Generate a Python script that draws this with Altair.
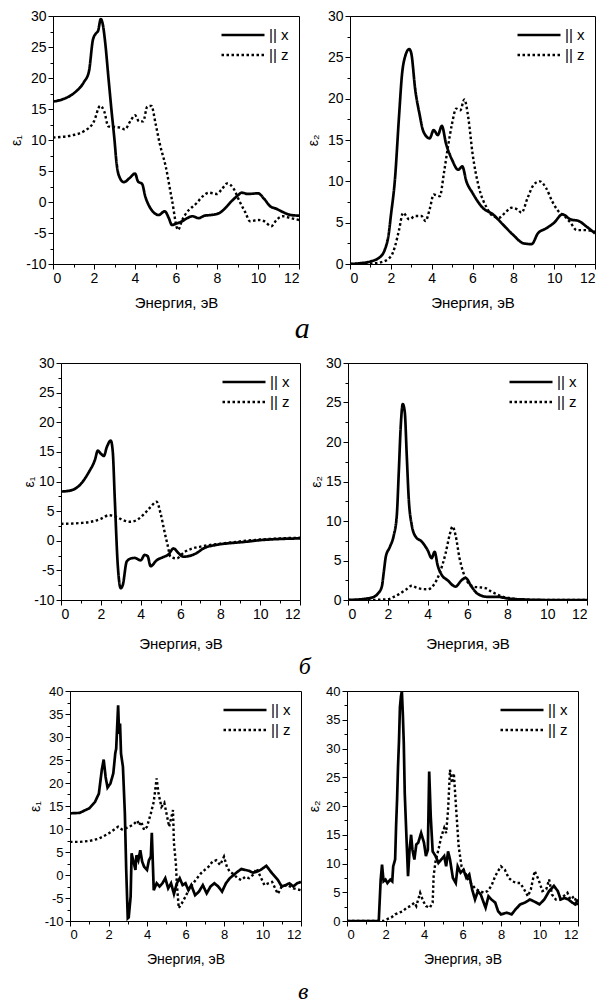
import altair as alt
import pandas as pd

SERIES = ["|| x", "|| z"]
X_TITLE = "Энергия, эВ"

# ---------- row "а" : eps1 ----------
a1_x_e = [0, 0.5, 1, 1.5, 1.75, 1.95, 2.1, 2.2, 2.33, 2.42, 2.55, 2.7, 2.85, 3.0, 3.1, 3.2, 3.45, 3.75, 4.0, 4.15,
          4.35, 4.5, 4.7, 4.95, 5.15, 5.45, 5.65, 5.8, 6.0, 6.3, 6.55, 6.8, 7.1, 7.4, 7.7, 8.1, 8.4, 8.7, 9.0, 9.2,
          9.5, 10.0, 10.3, 10.6, 10.9, 11.2, 11.6, 12.0]
a1_x_v = [16.2, 16.6, 17.5, 19.3, 21.0, 26.2, 27.2, 27.6, 29.5, 28.8, 25.6, 20.2, 14.9, 10.0, 6.3, 4.4, 3.2, 3.9, 4.6, 3.3,
          2.9, 0.9, -0.7, -1.8, -2.1, -1.5, -2.6, -3.7, -3.5, -3.1, -2.6, -2.3, -2.6, -2.2, -2.1, -1.8, -1.0, 0.1, 1.0, 1.5,
          1.3, 1.4, 0.5, -0.7, -1.1, -1.6, -2.1, -2.2]
a1_z_e = [0, 1, 1.5, 2, 2.3, 2.5, 2.7, 3.0, 3.3, 3.5, 3.8, 4.0, 4.2, 4.4, 4.6, 4.8, 5.0, 5.2, 5.5, 5.8, 6.1, 6.3, 6.5,
          7.0, 7.3, 7.6, 8.0, 8.2, 8.5, 8.8, 9.1, 9.4, 9.6, 10.0, 10.3, 10.65, 10.9, 11.2, 11.6, 12.0]
a1_z_v = [10.4, 10.8, 11.4, 13.0, 15.5, 14.6, 12.2, 12.1, 12.0, 11.7, 13.2, 14.0, 13.0, 13.0, 15.4, 15.5, 12.7, 9.5, 5.7,
          0.4, -4.5, -2.9, -1.8, -0.2, 0.9, 1.5, 1.3, 1.9, 3.0, 2.2, 0.1, -1.8, -3.1, -2.9, -3.1, -3.9, -2.9, -2.3, -2.6, -2.9]

# ---------- row "а" : eps2 ----------
a2_x_e = [0, 0.5, 1, 1.5, 1.7, 1.9, 2.0, 2.2, 2.4, 2.55, 2.7, 2.9, 3.0, 3.2, 3.4, 3.6, 3.9, 4.1, 4.3, 4.5, 4.7, 5.0,
          5.3, 5.5, 5.7, 6.0, 6.5, 7.0, 7.5, 8.0, 8.5, 8.9, 9.2, 9.6, 10.0, 10.4, 10.8, 11.2, 11.6, 12.0]
a2_x_v = [0, 0.1, 0.3, 0.9, 1.7, 3.7, 5.8, 10.2, 17.8, 23.0, 25.1, 26.0, 25.5, 21.0, 18.2, 16.0, 15.2, 16.2, 15.6, 16.7,
          14.6, 12.6, 11.4, 11.8, 10.0, 8.6, 6.8, 6.0, 4.75, 3.5, 2.5, 2.4, 3.7, 4.3, 5.0, 6.0, 5.4, 5.2, 4.5, 3.7]
a2_z_e = [0, 1, 1.5, 2, 2.2, 2.4, 2.6, 2.9, 3.2, 3.5, 3.7, 3.9, 4.1, 4.4, 4.6, 4.8, 5.0, 5.2, 5.4, 5.6, 5.8, 6.0, 6.3,
          6.7, 7.0, 7.3, 7.6, 7.9, 8.2, 8.4, 8.7, 9.0, 9.3, 9.6, 9.9, 10.2, 10.5, 10.8, 11.1, 11.5, 12.0]
a2_z_v = [0, 0.05, 0.2, 0.9, 2.1, 4.1, 6.2, 5.4, 5.8, 5.8, 5.2, 6.6, 8.4, 8.2, 11.0, 14.2, 17.0, 18.8, 18.6, 19.9, 17.6,
          13.4, 9.4, 6.8, 5.8, 5.6, 6.2, 6.8, 6.6, 6.2, 8.0, 9.6, 10.0, 9.2, 7.6, 6.4, 5.8, 5.0, 4.1, 4.1, 3.9]

# ---------- row "б" : eps1 ----------
b1_x_e = [0, 0.5, 1, 1.4, 1.7, 1.85, 2.0, 2.15, 2.3, 2.5, 2.6, 2.7, 2.85, 3.0, 3.1, 3.3, 3.5, 3.7, 4.0, 4.2, 4.35,
          4.5, 4.8, 5.1, 5.4, 5.65, 5.9, 6.15, 6.4, 6.8, 7.15, 7.8, 8.5, 9.2, 10.0, 11.0, 12.0]
b1_x_v = [8.3, 8.5, 9.6, 11.6, 13.6, 15.2, 14.7, 14.3, 15.8, 16.9, 15.0, 7.1, -4.1, -8.0, -7.5, -3.5, -3.0, -2.9, -3.3,
          -2.4, -2.6, -4.3, -3.3, -2.8, -2.3, -1.3, -2.1, -2.7, -2.6, -2.1, -1.3, -0.7, -0.4, -0.2, 0.1, 0.3, 0.4]
b1_z_e = [0, 1, 1.5, 2, 2.4, 2.8, 3.1, 3.5, 3.9, 4.2, 4.5, 4.8, 5.0, 5.2, 5.35, 5.5, 5.8, 6.2, 6.6, 7.0, 7.5, 8.0, 8.5,
          9.0, 10.0, 11.0, 12.0]
b1_z_v = [2.85, 3.0, 3.2, 3.7, 4.3, 4.0, 3.5, 3.2, 3.7, 4.6, 5.7, 6.6, 4.6, 1.5, -0.7, -2.7, -3.0, -1.9, -1.3, -1.0,
          -0.7, -0.5, -0.3, -0.1, 0.2, 0.4, 0.5]

# ---------- row "б" : eps2 ----------
b2_x_e = [0, 1, 1.3, 1.5, 1.7, 1.8, 1.9, 2.1, 2.3, 2.45, 2.55, 2.65, 2.75, 2.85, 2.95, 3.05, 3.2, 3.4, 3.7, 4.0, 4.2,
          4.35, 4.5, 4.7, 5.0, 5.4, 5.7, 5.9, 6.2, 6.5, 7.0, 7.5, 8.0, 9.0, 10.0, 12.0]
b2_x_v = [0, 0.2, 0.4, 0.8, 1.7, 3.6, 5.5, 6.7, 8.2, 10.7, 16.2, 22.1, 24.8, 23.8, 18.3, 12.8, 9.5, 8.0, 7.4, 6.3, 5.3,
          6.1, 4.4, 3.2, 2.5, 1.7, 2.5, 2.8, 1.7, 0.8, 0.4, 0.4, 0.2, 0.05, 0, 0]
b2_z_e = [0, 1, 2, 2.3, 2.6, 2.9, 3.2, 3.5, 4.0, 4.3, 4.6, 4.9, 5.1, 5.25, 5.4, 5.6, 5.8, 6.0, 6.3, 6.6, 6.9, 7.2,
          7.5, 7.8, 8.0, 8.5, 9.0, 10.0, 12.0]
b2_z_v = [0, 0, 0.1, 0.4, 0.8, 1.3, 1.8, 1.5, 1.35, 1.9, 3.4, 5.9, 8.2, 9.3, 8.2, 5.3, 3.4, 2.3, 1.7, 1.6, 1.5, 1.05,
          0.7, 0.4, 0.3, 0.1, 0.02, 0, 0]

# ---------- row "в" : eps1 ----------
c1_x_e = [0, 0.5, 1, 1.3, 1.5, 1.65, 1.75, 1.85, 1.95, 2.1, 2.25, 2.35, 2.4, 2.5, 2.55, 2.6, 2.65, 2.75, 2.85, 2.92,
          3.0, 3.05, 3.15, 3.2, 3.3, 3.4, 3.45, 3.55, 3.65, 3.75, 3.85, 4.0, 4.1, 4.2, 4.25, 4.35, 4.5, 4.65, 4.8,
          4.95, 5.1, 5.25, 5.4, 5.55, 5.7, 5.85, 6.0, 6.15, 6.3, 6.5, 6.7, 6.9, 7.1, 7.3, 7.5, 7.7, 7.9, 8.1, 8.3,
          8.5, 8.7, 8.9, 9.1, 9.3, 9.5, 9.7, 9.9, 10.2, 10.5, 10.8, 11.0, 11.2, 11.4, 11.6, 11.8, 12.0]
c1_x_v = [13.4, 13.5, 14.5, 15.9, 17.7, 22.8, 25.1, 21.3, 19.0, 19.9, 22.1, 26.4, 27.5, 36.9, 30.7, 32.9, 26.4, 23.5,
          13.4, 1.1, -9.4, -9.2, -4.7, 4.7, 2.9, 1.1, 4.3, 3.2, 5.4, 2.9, 1.8, 1.1, 3.2, 4.0, 9.2, -3.3, -1.8, -2.5,
          -1.8, -0.7, -2.9, -1.8, -4.1, -1.8, -0.7, -2.2, -1.8, -3.3, -2.2, -4.4, -3.6, -2.2, -4.0, -2.5, -1.8, -2.5,
          -3.6, -1.8, -0.7, 0.0, 0.7, 1.3, 1.1, 0.9, 0.5, 0.7, 1.1, 2.0, 0.35, -1.1, -2.5, -2.2, -1.8, -2.5, -1.8, -1.5]
c1_z_e = [0, 0.5, 1, 1.5, 2, 2.3, 2.5, 2.7, 3.0, 3.3, 3.5, 3.6, 3.7, 3.85, 4.0, 4.2, 4.35, 4.5, 4.6, 4.75, 4.9, 5.05,
          5.15, 5.25, 5.35, 5.4, 5.5, 5.55, 5.65, 5.8, 6.0, 6.2, 6.4, 6.6, 6.8, 7.0, 7.2, 7.4, 7.6, 7.8, 8.0, 8.15,
          8.3, 8.5, 8.7, 8.9, 9.1, 9.3, 9.5, 9.7, 9.9, 10.1, 10.3, 10.5, 10.7, 10.8, 11.0, 11.3, 11.6, 12.0]
c1_z_v = [7.2, 7.2, 7.4, 7.9, 9.0, 9.9, 10.5, 9.9, 10.3, 11.0, 11.8, 10.8, 11.6, 9.8, 10.5, 13.4, 15.9, 21.0, 17.7,
          14.8, 15.7, 12.6, 10.5, 12.3, 14.1, 6.9, 2.5, -1.8, -7.2, -6.2, -4.7, -2.9, -1.8, -0.7, 0.35, 1.1, 1.8, 2.9,
          3.2, 2.2, 4.0, 1.8, 0.7, 0.2, -0.7, -1.1, -0.4, -0.7, 0.0, 1.4, -0.4, -2.2, -1.8, -1.5, -3.3, -4.1, -2.5,
          -2.2, -2.9, -3.3]

# ---------- row "в" : eps2 ----------
c2_x_e = [0, 1.65, 1.75, 1.82, 1.9, 2.0, 2.1, 2.25, 2.35, 2.4, 2.5, 2.55, 2.6, 2.65, 2.7, 2.75, 2.8, 2.85, 2.9, 2.95,
          3.0, 3.1, 3.17, 3.25, 3.33, 3.4, 3.5, 3.6, 3.7, 3.85, 4.0, 4.1, 4.2, 4.27, 4.35, 4.45, 4.6, 4.75, 4.9, 5.05,
          5.15, 5.25, 5.35, 5.5, 5.65, 5.75, 5.9, 6.05, 6.2, 6.35, 6.5, 6.65, 6.8, 6.95, 7.1, 7.2, 7.35, 7.5, 7.7,
          7.85, 8.0, 8.3, 8.55, 8.75, 9.0, 9.25, 9.5, 9.75, 10.0, 10.25, 10.5, 10.75, 10.95, 11.1, 11.3, 11.5, 11.7,
          11.85, 12.0]
c2_x_v = [0, 0, 7.2, 9.8, 6.9, 7.2, 6.6, 7.2, 6.9, 9.5, 10.7, 16.5, 21.0, 26.8, 31.2, 37.2, 39.0, 40.0, 36.0, 30.9,
          22.2, 13.6, 7.8, 12.4, 15.0, 12.4, 10.7, 13.3, 13.6, 15.3, 13.6, 11.3, 12.4, 26.0, 18.2, 12.1, 11.3, 10.1,
          10.7, 11.3, 9.5, 12.1, 10.7, 7.5, 6.6, 9.5, 8.4, 8.9, 7.5, 8.1, 5.5, 3.75, 5.2, 4.6, 3.2, 2.3, 4.3, 3.75,
          3.2, 1.7, 1.15, 1.45, 1.15, 2.0, 2.9, 3.2, 3.75, 3.35, 2.9, 3.75, 5.2, 6.1, 5.2, 3.75, 4.0, 3.75, 3.2, 2.9,
          3.75]
c2_z_e = [0, 1.9, 2.0, 2.3, 2.5, 2.7, 2.9, 3.1, 3.3, 3.5, 3.6, 3.8, 3.95, 4.1, 4.3, 4.45, 4.5, 4.6, 4.75, 4.9, 5.05,
          5.15, 5.25, 5.35, 5.45, 5.55, 5.65, 5.8, 5.95, 6.1, 6.3, 6.5, 6.7, 6.9, 7.1, 7.3, 7.5, 7.7, 7.85, 8.0, 8.2,
          8.4, 8.6, 8.8, 9.0, 9.2, 9.4, 9.55, 9.75, 9.95, 10.15, 10.35, 10.5, 10.65, 10.85, 11.05, 11.25, 11.45,
          11.6, 11.8, 12.0]
c2_z_v = [0, 0, 0.2, 0.6, 1.15, 1.45, 1.7, 2.3, 2.6, 3.2, 2.6, 4.9, 3.5, 2.6, 2.3, 3.2, 7.8, 10.4, 12.4, 14.7, 16.2,
          15.3, 19.3, 26.3, 24.0, 25.7, 20.5, 13.0, 9.5, 8.7, 7.2, 6.3, 5.5, 5.2, 4.9, 5.2, 6.1, 7.8, 8.7, 9.5, 8.9,
          7.5, 6.9, 6.6, 6.6, 5.5, 4.3, 5.5, 8.7, 7.2, 5.2, 5.5, 7.2, 4.6, 3.75, 3.75, 4.3, 4.9, 3.75, 4.3, 2.6]

X_TICKS = list(range(0, 13))


def make_frame(ex, vx, ez, vz):
    return pd.DataFrame({
        "E": ex + ez,
        "eps": vx + vz,
        "series": [SERIES[0]] * len(ex) + [SERIES[1]] * len(ez),
    })


def panel(df, ytitle, ymin, ymax, w, h, lab_size, ytitle_pad, xtitle_pad, interp):
    n = int(round((ymax - ymin) / 2.5))
    y_ticks = [ymin + 2.5 * i for i in range(n + 1)]
    x_axis = alt.Axis(
        values=X_TICKS,
        labelExpr="datum.value % 2 === 0 ? '' + datum.value : ''",
        tickSize={"condition": {"test": "datum.value % 2 !== 0", "value": 3}, "value": 5},
        labelFontSize=lab_size,
        labelPadding=2,
        title=X_TITLE,
        titlePadding=xtitle_pad,
        titleFontSize=lab_size + 1,
    )
    y_axis = alt.Axis(
        values=y_ticks,
        labelExpr="datum.value % 5 === 0 ? '' + datum.value : ''",
        tickSize={"condition": {"test": "datum.value % 5 !== 0", "value": 3}, "value": 5},
        labelFontSize=lab_size,
        labelPadding=2,
        minExtent=24,
        maxExtent=24,
        title=ytitle,
        titlePadding=ytitle_pad,
        titleFontSize=14,
    )
    return alt.Chart(df).mark_line(color="black", interpolate=interp, clip=True, strokeCap="butt").encode(
        x=alt.X("E:Q", scale=alt.Scale(domain=[0, 12], nice=False, zero=False), axis=x_axis),
        y=alt.Y("eps:Q", scale=alt.Scale(domain=[ymin, ymax], nice=False, zero=False), axis=y_axis),
        strokeDash=alt.StrokeDash(
            "series:N",
            scale=alt.Scale(domain=SERIES, range=[[1, 0], [2.5, 2.5]]),
            legend=alt.Legend(
                title=None, orient="top-right", symbolType="stroke", symbolSize=1849,
                symbolStrokeWidth=2.5, symbolStrokeColor="black", labelFontSize=15,
                labelOffset=3, clipHeight=18, rowPadding=2, padding=0, offset=10,
            ),
        ),
        strokeWidth=alt.StrokeWidth(
            "series:N", scale=alt.Scale(domain=SERIES, range=[2.7, 2.4]), legend=None
        ),
    ).properties(width=w, height=h)


def caption(text, offset, size):
    return alt.TitleParams(text, orient="bottom", anchor="middle", font="Liberation Serif",
                           fontStyle="italic", fontWeight="normal", fontSize=size, color="black",
                           offset=offset)


def row(left, right, spacing, text, offset, size):
    return alt.hconcat(left, right, spacing=spacing, bounds="flush").resolve_scale(
        strokeDash="independent", strokeWidth="independent"
    ).properties(title=caption(text, offset, size))


p_a1 = panel(make_frame(a1_x_e, a1_x_v, a1_z_e, a1_z_v), "ε₁", -10, 30, 246, 248, 14, 6, 10, "monotone")
p_a2 = panel(make_frame(a2_x_e, a2_x_v, a2_z_e, a2_z_v), "ε₂", 0, 30, 245, 248, 14, 6, 10, "monotone")
p_b1 = panel(make_frame(b1_x_e, b1_x_v, b1_z_e, b1_z_v), "ε₁", -10, 30, 239, 237, 14, 1, 15, "monotone")
p_b2 = panel(make_frame(b2_x_e, b2_x_v, b2_z_e, b2_z_v), "ε₂", 0, 30, 239, 237, 14, 1, 15, "monotone")
p_c1 = panel(make_frame(c1_x_e, c1_x_v, c1_z_e, c1_z_v), "ε₁", -10, 40, 231, 230, 13, 4, 11, "linear")
p_c2 = panel(make_frame(c2_x_e, c2_x_v, c2_z_e, c2_z_v), "ε₂", 0, 40, 231, 230, 13, 2, 11, "linear")

row_a = row(p_a1, p_a2, 51, "а", 3, 30)
row_b = row(p_b1, p_b2, 48, "б", 3, 24)
row_c = row(p_c1, p_c2, 46, "в", 13, 24)

lower = alt.vconcat(row_b, row_c, spacing=5, center=True).resolve_scale(
    strokeDash="independent", strokeWidth="independent"
)

chart = alt.vconcat(row_a, lower, spacing=11, center=True).resolve_scale(
    strokeDash="independent", strokeWidth="independent"
).properties(
    padding={"left": 0, "top": 0, "right": 0, "bottom": 0},
    background="white",
).configure(
    font="Liberation Sans",
).configure_view(
    stroke="black", strokeWidth=1,
).configure_axis(
    grid=False, domainColor="black", domainWidth=1, tickColor="black", tickWidth=1,
    labelColor="black", titleColor="black", titleFontWeight="normal",
    labelFont="Liberation Sans", titleFont="Liberation Sans",
).configure_legend(
    labelFont="Liberation Sans", labelColor="black",
)

chart.save("out.html", embed_options={"renderer": "svg", "actions": False})
